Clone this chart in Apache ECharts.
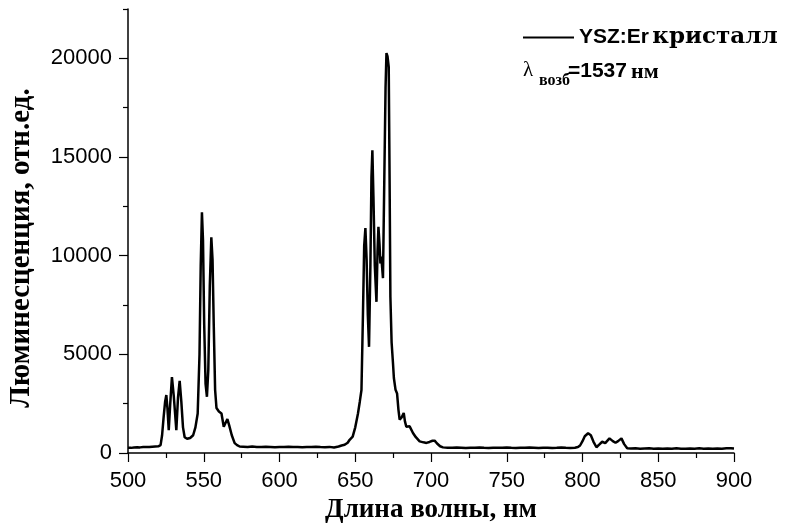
<!DOCTYPE html>
<html>
<head>
<meta charset="utf-8">
<script src="https://cdn.jsdelivr.net/npm/echarts@6/dist/echarts.min.js"></script>
<style>html,body{margin:0;padding:0;background:#fff}#c{width:794px;height:526px}</style>
</head>
<body>
<div id="c"></div>
<script>
// Wavelength (nm)
const wavelength = [
500,502,504,506,508,510,512,514,516,518,520,521.5,522.5,523.5,524.5,525.3,526.0,526.9,527.8,529.0,530.2,531.9,533.0,534.1,535.2,536.3,537.4,539,541,543,544.5,546.0,547.2,548.0,548.8,549.5,550.3,551.2,552.1,553.0,554.0,555.0,555.8,556.6,557.5,558.4,560,561.7,563.2,565.6,566.8,568.5,570.4,572,573.7,
576,579,582,585,588,591,594,597,600,603,606,609,612,615,618,621,624,627,630,633,636,639,641,643,645,646.3,648.3,650,651.8,653,654.1,655.1,655.9,656.7,657.5,658.3,659.1,660.0,660.7,661.3,662.0,662.9,664.0,664.7,665.3,666.0,666.6,667.2,668.3,669.2,670.0,670.6,671.3,672.1,672.7,673.2,674.0,674.9,675.5,676.6,677.6,678.5,679.3,680.6,682.0,682.8,683.7,685.9,688.1,690,692.5,695,697,699,701,702.4,704,706,707.9,
711,714,717,720,723,726,729,732,735,738,741,744,747,750,753,756,759,762,765,768,771,774,777,780,783,786,789,792,795,797,798.4,800,801.5,803.7,805.5,807.2,809.2,811,813,815,817.8,820,821.8,823.5,825.7,827.5,829.5,
832,835,838,841,844,847,850,853,856,859,862,865,868,871,874,877,880,883,886,889,892,895,898,900
];
// Luminescence (a.u.)
const intensity = [
270,260,280,290,285,300,310,300,320,330,340,400,900,1800,2600,2940,2300,1160,2400,3850,2900,1160,2800,3650,2600,1300,800,720,760,900,1300,2000,5000,9500,12200,10800,6500,3500,2850,4200,8500,10930,9800,6500,3200,2280,2100,2000,1330,1720,1400,900,500,400,330,
320,300,330,310,300,320,310,290,310,300,320,310,300,290,310,300,320,300,290,310,280,330,380,420,520,670,830,1300,2000,2600,3190,7090,10500,11400,9800,7000,5380,9500,14000,15340,13000,9500,7660,10200,11460,10600,9600,9950,8860,14000,18500,20270,20100,19560,13500,7910,5600,4560,3800,3200,3020,2200,1690,1800,2030,1600,1330,1350,1015,800,590,540,510,560,620,625,480,340,285,
270,260,280,270,250,270,260,280,260,250,270,260,270,280,260,250,270,260,280,270,250,260,270,250,260,280,260,250,270,300,380,600,850,1000,900,580,290,420,570,500,740,600,520,600,740,450,240,
230,240,220,230,240,220,230,210,230,220,240,220,210,230,220,240,220,230,210,230,220,240,240,230
];
const xTicks = [500,550,600,650,700,750,800,850,900];
const yMajor = [0,5000,10000,15000,20000];
const yMinor = [2500,7500,12500,17500,22500];
const seriesName = 'YSZ:Er кристалл';

const chart = echarts.init(document.getElementById('c'), null, {renderer:'canvas'});
const pts = wavelength.map((w,i)=>[w,intensity[i]]);
const sans = '"Liberation Sans", Arial, sans-serif';
const serif = '"Liberation Serif", "Times New Roman", serif';
const wideSerif = '"DejaVu Serif", "Liberation Serif", serif';
const yCommon = {type:'value', min:0, max:22500, position:'left', splitLine:{show:false}};
chart.setOption({
  animation:false,
  backgroundColor:'#fff',
  grid:{left:128, right:60, top:9, bottom:73, containLabel:false, outerBoundsMode:'none'},
  legend:{
    left:523, top:26, padding:0, itemWidth:51, itemHeight:14, itemGap:5,
    data:[seriesName],
    icon:'path://M0,6 L51,6 L51,8 L0,8 Z',
    formatter:function(){ return '{a|YSZ:Er} {b|кристалл}'; },
    textStyle:{color:'#000', rich:{
      a:{fontFamily:sans, fontWeight:'bold', fontSize:21, color:'#000'},
      b:{fontFamily:wideSerif, fontWeight:'bold', fontSize:23, color:'#000'}
    }}
  },
  xAxis:{
    type:'value', min:xTicks[0], max:xTicks[xTicks.length-1], interval:50,
    axisLine:{lineStyle:{color:'#000', width:1.5}},
    axisTick:{show:true, length:9, lineStyle:{color:'#000', width:1.2}},
    minorTick:{show:true, splitNumber:2, length:5, lineStyle:{color:'#000', width:1.2}},
    axisLabel:{color:'#000', fontFamily:sans, fontSize:22, margin:17},
    splitLine:{show:false},
    name:'Длина волны, нм', nameLocation:'middle', nameGap:44,
    nameTextStyle:{color:'#000', fontFamily:serif, fontWeight:'bold', fontSize:27}
  },
  yAxis:[
    Object.assign({}, yCommon, {
      axisLine:{show:true, lineStyle:{color:'#000', width:1.5}},
      axisTick:{show:true, length:9, customValues:yMajor, lineStyle:{color:'#000', width:1.2}},
      axisLabel:{color:'#000', fontFamily:sans, fontSize:22, margin:16, customValues:yMajor,
                 formatter:function(v){ return String(v); }}
    }),
    Object.assign({}, yCommon, {
      axisLine:{show:false},
      axisTick:{show:true, length:5, customValues:yMinor, lineStyle:{color:'#000', width:1.2}},
      axisLabel:{show:false}
    })
  ],
  graphic:[
    {type:'text', x:22, y:248, rotation:Math.PI/2,
     style:{text:'Люминесценция, отн.ед.', fill:'#000', font:'bold 29px '+serif, align:'center', verticalAlign:'middle'}},
    {type:'text', x:523, y:70, style:{text:'λ', fill:'#000', font:'21px '+serif, verticalAlign:'middle'}},
    {type:'text', x:539, y:81, style:{text:'возб', fill:'#000', font:'bold 16px '+serif, verticalAlign:'middle'}},
    {type:'text', x:568, y:71, style:{text:'=1537', fill:'#000', font:'bold 21px '+sans, verticalAlign:'middle'}},
    {type:'text', x:631, y:72, style:{text:'нм', fill:'#000', font:'bold 22px '+serif, verticalAlign:'middle'}}
  ],
  series:[{
    name:seriesName, type:'line', data:pts, showSymbol:false, symbol:'none',
    lineStyle:{color:'#000', width:2.5}, itemStyle:{color:'#000'}
  }]
});
</script>
</body>
</html>
